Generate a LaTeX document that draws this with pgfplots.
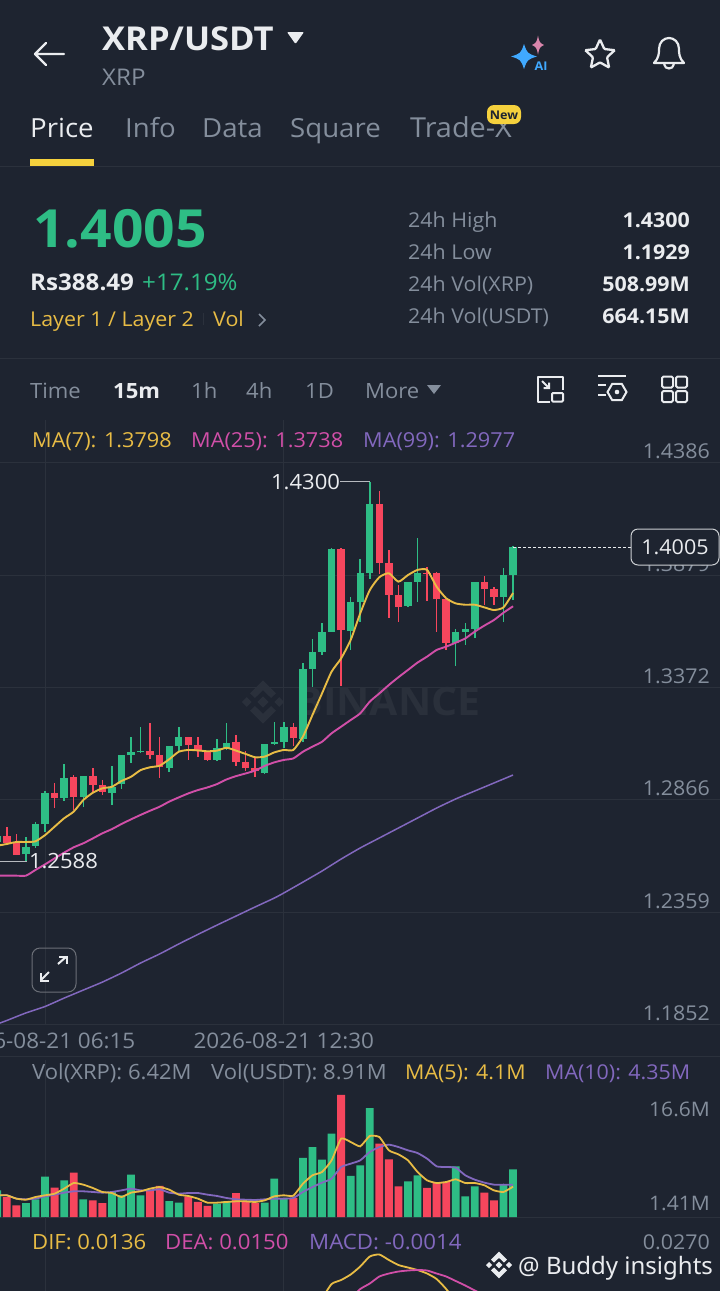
\documentclass[border=0pt]{standalone}
\usepackage{fontspec}
\setmainfont[FakeStretch=1.05]{Open Sans}
\newfontfamily\wm{Noto Sans}
\usepackage{pgfplots}
\usepackage{pgfplotstable}
\pgfplotsset{compat=1.18}
\usetikzlibrary{shapes.geometric}
\definecolor{bg}{HTML}{1E2430}
\definecolor{gridc}{HTML}{2B313C}
\definecolor{sepc}{HTML}{2B313C}
\definecolor{wmarkc}{HTML}{2A303B}
\definecolor{upc}{HTML}{2EBD85}
\definecolor{dnc}{HTML}{F6465D}
\definecolor{yel}{HTML}{E8BC45}
\definecolor{pnk}{HTML}{D14FA8}
\definecolor{pur}{HTML}{8268BE}
\definecolor{gry}{HTML}{848E9C}
\definecolor{wht}{HTML}{EAECEF}
\definecolor{tabY}{HTML}{F5D13D}

\pgfplotstableread{
x bot top low high
-1 1.2676 1.2702 1.2661 1.2711
2 1.2619 1.2654 1.2588 1.2696
3 1.2658 1.2756 1.2646 1.2767
4 1.2754 1.2894 1.2721 1.2906
6 1.2875 1.2962 1.2861 1.3027
8 1.2879 1.2972 1.2834 1.2974
11 1.2894 1.2924 1.2842 1.3018
12 1.2936 1.3066 1.2912 1.3066
13 1.3066 1.3081 1.3033 1.3150
14 1.3079 1.3087 1.3078 1.3195
17 1.3007 1.3108 1.2992 1.3108
18 1.3108 1.3147 1.3087 1.3195
22 1.3045 1.3097 1.3039 1.3139
23 1.3094 1.3123 1.3090 1.3213
27 1.2987 1.3117 1.2980 1.3117
28 1.3117 1.3127 1.3112 1.3218
29 1.3127 1.3195 1.3097 1.3218
31 1.3138 1.3457 1.3127 1.3484
32 1.3457 1.3533 1.3372 1.3590
33 1.3533 1.3624 1.3518 1.3661
34 1.3624 1.3998 1.3624 1.3999
36 1.3628 1.3756 1.3541 1.3778
37 1.3756 1.3890 1.3669 1.3950
38 1.3890 1.4198 1.3860 1.4300
42 1.3739 1.3849 1.3736 1.3849
43 1.3849 1.3887 1.3759 1.4044
47 1.3574 1.3624 1.3469 1.3634
48 1.3624 1.3634 1.3563 1.3661
49 1.3634 1.3849 1.3593 1.3849
52 1.3781 1.3879 1.3669 1.3912
53 1.3879 1.4005 1.3766 1.4010
}\upcandles
\pgfplotstableread{
x bot top low high
0 1.2672 1.2702 1.2661 1.2744
1 1.2616 1.2672 1.2616 1.2711
5 1.2875 1.2894 1.2827 1.2942
7 1.2879 1.2966 1.2819 1.2977
9 1.2932 1.2972 1.2902 1.3007
10 1.2902 1.2932 1.2887 1.2954
15 1.3066 1.3087 1.3048 1.3213
16 1.3012 1.3067 1.2965 1.3147
19 1.3112 1.3147 1.3045 1.3147
20 1.3085 1.3112 1.3057 1.3147
21 1.3045 1.3085 1.3042 1.3087
24 1.3037 1.3124 1.3018 1.3157
25 1.3007 1.3037 1.2995 1.3085
26 1.2997 1.3007 1.2969 1.3052
30 1.3142 1.3195 1.3108 1.3210
35 1.3631 1.3998 1.3379 1.3999
39 1.3935 1.4198 1.3884 1.4258
40 1.3789 1.3935 1.3684 1.3992
41 1.3736 1.3789 1.3669 1.3834
44 1.3884 1.3890 1.3762 1.3917
45 1.3769 1.3887 1.3624 1.3894
46 1.3574 1.3769 1.3541 1.3769
50 1.3814 1.3848 1.3744 1.3875
51 1.3781 1.3814 1.3744 1.3823
}\dncandles
\pgfplotstableread{
x ma7 ma25
-1 1.2658 1.2523
0 1.2666 1.2523
1 1.2675 1.2523
2 1.2675 1.2523
3 1.2678 1.2549
4 1.2706 1.2574
5 1.2744 1.2601
6 1.2782 1.2627
7 1.2812 1.2651
8 1.2864 1.2669
9 1.2897 1.2691
10 1.2917 1.2714
11 1.2924 1.2733
12 1.2950 1.2756
13 1.2969 1.2777
14 1.2999 1.2797
15 1.3012 1.2816
16 1.3019 1.2834
17 1.3048 1.2857
18 1.3082 1.2876
19 1.3090 1.2894
20 1.3088 1.2909
21 1.3084 1.2921
22 1.3087 1.2936
23 1.3100 1.2957
24 1.3087 1.2972
25 1.3072 1.2984
26 1.3057 1.2997
27 1.3060 1.3018
28 1.3079 1.3034
29 1.3090 1.3045
30 1.3090 1.3052
31 1.3150 1.3082
32 1.3248 1.3105
33 1.3345 1.3127
34 1.3443 1.3165
35 1.3503 1.3195
36 1.3586 1.3225
37 1.3706 1.3255
38 1.3811 1.3308
39 1.3869 1.3345
40 1.3887 1.3383
41 1.3849 1.3418
42 1.3879 1.3451
43 1.3902 1.3484
44 1.3902 1.3511
45 1.3826 1.3541
46 1.3774 1.3556
47 1.3751 1.3574
48 1.3745 1.3593
49 1.3745 1.3624
50 1.3733 1.3651
51 1.3721 1.3676
52 1.3733 1.3709
53 1.3798 1.3738
}\matable
\pgfplotstableread{
x ma99
-1 1.1854
0 1.1870
2 1.1904
4 1.1933
6 1.1971
8 1.2007
10 1.2043
12 1.2084
14 1.2129
16 1.2170
18 1.2215
20 1.2258
22 1.2300
24 1.2341
26 1.2382
28 1.2422
29 1.2445
31 1.2494
33 1.2544
35 1.2598
37 1.2648
39 1.2693
41 1.2738
43 1.2783
45 1.2828
47 1.2869
49 1.2905
51 1.2941
53 1.2977
}\manine
\pgfplotstableread{
x v
-1 3.60
2 1.89
3 2.39
4 5.45
6 4.95
8 2.39
11 3.38
12 2.93
13 5.72
14 2.93
17 2.16
18 1.94
22 1.80
23 2.16
27 1.94
28 5.18
29 2.57
31 7.97
32 9.45
33 7.74
34 11.25
36 5.54
37 6.98
38 14.70
42 4.82
43 5.63
47 6.84
48 2.79
49 4.14
52 4.41
53 6.42
}\volup
\pgfplotstableread{
x v
0 2.70
1 1.58
5 3.96
7 5.99
9 2.25
10 1.89
15 3.60
16 4.19
19 2.79
20 2.03
21 1.49
24 3.24
25 2.16
26 1.89
30 2.57
35 16.50
39 9.90
40 7.79
41 4.14
44 3.92
45 4.64
46 4.73
50 3.29
51 2.25
}\voldn
\pgfplotstableread{
x m5 m10
-1 2.93 2.93
0 2.93 2.93
1 2.48 2.48
2 2.34 2.39
3 2.70 2.48
4 2.93 2.79
5 3.15 3.02
6 3.83 3.29
7 4.59 3.47
8 4.37 3.47
9 3.92 3.38
10 3.38 3.29
11 3.24 3.38
12 2.70 3.60
13 3.29 3.83
14 3.47 3.60
15 3.83 3.60
16 4.05 3.74
17 3.69 3.29
18 3.02 3.15
19 2.84 3.24
20 2.48 3.24
21 1.94 3.02
22 1.94 2.84
23 2.03 2.57
24 2.12 2.39
25 2.12 2.34
26 2.03 2.30
27 2.25 2.39
28 2.79 2.48
29 2.93 2.48
30 2.88 2.57
31 4.50 3.38
32 5.63 4.05
33 6.08 4.64
34 7.65 5.18
35 10.58 6.75
36 10.13 7.20
37 9.54 7.65
38 10.94 8.78
39 10.80 9.45
40 9.00 9.77
41 8.46 9.45
42 7.65 9.00
43 6.08 8.64
44 4.95 7.88
45 4.59 6.84
46 4.73 6.75
47 5.09 6.66
48 4.59 5.63
49 4.59 5.04
50 4.28 4.64
51 3.60 4.37
52 3.38 4.37
53 4.10 4.35
}\volma
\pgfplotstableread{
x dif
32 0.0153
33 0.0179
34 0.0208
35 0.0216
36 0.0227
37 0.0243
38 0.0263
39 0.0267
40 0.0256
41 0.0246
42 0.0241
43 0.0236
44 0.0229
45 0.0218
46 0.0198
47 0.0173
}\diftable
\pgfplotstableread{
x dea
35 0.0159
36 0.0179
37 0.0198
38 0.0209
39 0.0223
40 0.0229
41 0.0233
42 0.0235
43 0.0236
44 0.0235
45 0.0229
46 0.0223
47 0.0214
48 0.0205
49 0.0195
50 0.0186
}\deatable

\newcommand\T[6]{\node[anchor=#3,inner sep=0pt,text=#5,font=\fontsize{#4}{#4}\selectfont] at (#1,#2) {#6};}
\newcommand\spark[5]{\fill[#5] (#1,#2-#4) .. controls (#1+0.25*#3,#2-0.25*#4) .. (#1+#3,#2) .. controls (#1+0.25*#3,#2+0.25*#4) .. (#1,#2+#4) .. controls (#1-0.25*#3,#2+0.25*#4) .. (#1-#3,#2) .. controls (#1-0.25*#3,#2-0.25*#4) .. cycle;}
\newcommand\bnlogo[4]{\begin{scope}[shift={(#1,#2)},scale=#3]
\fill[#4] (0,-3.6)--(3.6,0)--(0,3.6)--(-3.6,0)--cycle;
\fill[#4] (-10.5,-3.2)--(-7.3,0)--(-10.5,3.2)--(-13.7,0)--cycle;
\fill[#4] (10.5,-3.2)--(13.7,0)--(10.5,3.2)--(7.3,0)--cycle;
\fill[#4] (0,-14)--(8.4,-5.6)--(5.2,-2.6)--(0,-7.6)--(-5.2,-2.6)--(-8.4,-5.6)--cycle;
\fill[#4] (0,14)--(8.4,5.6)--(5.2,2.6)--(0,7.6)--(-5.2,2.6)--(-8.4,5.6)--cycle;
\end{scope}}

\pgfplotsset{panel/.style={
  scale only axis, width=720pt,
  xmin=-0.717, xmax=74.67,
  axis line style={draw=none}, tick style={draw=none},
  clip=true,
  xtick={4,29}, xmajorgrids, ymajorgrids,
  grid style={gridc,line width=1pt},
  scaled y ticks=false,
}}
\pgfplotsset{
  wick/.style={draw=none,mark=none,forget plot,error bars/.cd,y dir=both,y explicit,error mark=none,error bar style={draw=#1,line width=1.5pt}},
  body/.style={draw=none,mark=none,forget plot,error bars/.cd,y dir=plus,y explicit,error mark=none,error bar style={draw=#1,line width=7.4pt}},
}

\begin{document}
\begin{tikzpicture}[x=1pt,y=-1pt]
\path[use as bounding box,clip] (0,0) rectangle (720,1291);
\fill[bg] (0,0) rectangle (720,1291);

% ---------- header
\draw[wht,line width=2.3pt,line cap=round,line join=round] (35,54)--(64,54) (46,43)--(35,54)--(46,65);
\T{102}{50}{base west}{32.9}{wht}{\bfseries XRP/USDT}
\fill[wht,rounded corners=1pt] (287,32)--(304,32)--(295.5,44)--cycle;
\T{102}{85}{base west}{23}{gry}{XRP}
\spark{524}{56.5}{13}{12.5}{blue!45!cyan!75!white}
\spark{538}{45}{6}{9.5}{violet!30!pink}
\T{541}{70}{base}{12}{blue!45!cyan!75!white}{\bfseries AI}
\node[star,star points=5,star point ratio=2.1,draw=wht,line width=2.3pt,minimum size=31pt,inner sep=0pt,rounded corners=1pt] at (600,55) {};
\draw[wht,line width=2.2pt,line join=round] (654,63) .. controls (659,58) and (659,53) .. (659,49) .. controls (659,42) and (664,38) .. (669,38) .. controls (674,38) and (679,42) .. (679,49) .. controls (679,53) and (679,58) .. (684,63) -- cycle;
\draw[wht,line width=2.2pt] (664,64) .. controls (665,70) and (673,70) .. (674,64);

\T{30}{137}{base west}{26.3}{wht}{Price}
\T{125}{137}{base west}{26.3}{gry}{Info}
\T{202}{137}{base west}{26.3}{gry}{Data}
\T{290}{137}{base west}{26.3}{gry}{Square}
\T{410}{137}{base west}{27.5}{gry}{Trade-X}
\fill[tabY,rounded corners=7pt] (487,105) rectangle (521,124);
\T{504}{119}{base}{12}{bg}{\bfseries New}
\fill[tabY] (30,159) rectangle (94,166);
\draw[sepc,line width=1pt] (0,166)--(720,166);

% ---------- price block
\T{33}{247}{base west}{52.6}{upc}{\bfseries 1.4005}
\T{30}{290}{base west}{23}{wht}{\bfseries Rs388.49}
\T{142}{290}{base west}{23}{upc}{+17.19\%}
\T{30}{326}{base west}{20.4}{yel}{Layer 1 / Layer 2}
\draw[gridc,line width=1pt] (203,313)--(203,325);
\T{213}{326}{base west}{20.4}{yel}{Vol}
\draw[gry,line width=1.5pt] (259,314)--(265,320)--(259,326);
\T{408}{227}{base west}{20.4}{gry}{24h High}
\T{408}{259}{base west}{20.4}{gry}{24h Low}
\T{408}{291}{base west}{20.4}{gry}{24h Vol(XRP)}
\T{408}{323}{base west}{20.4}{gry}{24h Vol(USDT)}
\T{690}{227}{base east}{20.4}{wht}{\bfseries 1.4300}
\T{690}{259}{base east}{20.4}{wht}{\bfseries 1.1929}
\T{690}{291}{base east}{20.4}{wht}{\bfseries 508.99M}
\T{690}{323}{base east}{20.4}{wht}{\bfseries 664.15M}
\draw[sepc,line width=1pt] (0,358)--(720,358);

% ---------- interval row
\T{30}{398}{base west}{21}{gry}{Time}
\T{113}{398}{base west}{21}{wht}{\bfseries 15m}
\T{191}{398}{base west}{21}{gry}{1h}
\T{246}{398}{base west}{21}{gry}{4h}
\T{305}{398}{base west}{21}{gry}{1D}
\T{365}{398}{base west}{21}{gry}{More}
\fill[gry] (427,385)--(441,385)--(434,394)--cycle;
\draw[wht,line width=2pt,line join=round] (549,376.5)--(537.5,376.5)--(537.5,401.5)--(550,401.5) (563,390)--(563,376.5)--(549,376.5);
\draw[wht,line width=2pt,rounded corners=1pt] (552,393) rectangle (563,401.5);
\draw[wht,line width=2pt] (542,381)--(549,388) (549,382.5)--(549,388)--(543.5,388);
\draw[wht,line width=2pt] (598,376)--(626,376) (598,385)--(606,385) (598,395)--(606,395);
\node[regular polygon,regular polygon sides=6,draw=wht,line width=2pt,minimum size=19pt,inner sep=0pt] at (617,392) {};
\fill[wht] (617,392) circle (2.3);
\foreach \a/\b in {662/376.5,676/376.5,662/391,676/391}{\draw[wht,line width=2pt,rounded corners=1.5pt] (\a,\b) rectangle (\a+11,\b+11);}

% ---------- MA legend
\T{32}{447}{base west}{20.65}{yel}{MA(7): 1.3798}
\T{191}{447}{base west}{20.65}{pnk}{MA(25): 1.3738}
\T{363}{447}{base west}{20.65}{pur}{MA(99): 1.2977}

% ---------- watermark
\bnlogo{263}{702}{1.55}{wmarkc}
\T{388}{715}{base}{39}{wmarkc}{\bfseries BINANCE}

% ---------- price panel
\begin{axis}[panel, at={(0pt,-1025pt)}, anchor=south west, height=605pt,
  ymin=1.18495, ymax=1.45781,
  ytick={1.1852,1.2359,1.2866,1.3372,1.3879,1.4386},
  xticklabels={2026-08-21 06:15,2026-08-21 12:30},
  yticklabel pos=right,
  /pgf/number format/.cd,fixed,fixed zerofill,precision=4,assume math mode=true,
  /pgfplots/.cd,
  yticklabel style={anchor=base east,xshift=-10pt,yshift=4pt,inner sep=0pt,font=\fontsize{20.4}{21}\selectfont,text=gry},
  xticklabel style={anchor=base,yshift=-23pt,inner sep=0pt,font=\fontsize{21.4}{22}\selectfont,text=gry},
  axis on top=false]
\addplot[wick=upc] table[x=x,y=bot,y error plus expr=\thisrow{high}-\thisrow{bot},y error minus expr=\thisrow{bot}-\thisrow{low}] {\upcandles};
\addplot[body=upc] table[x=x,y=bot,y error plus expr=\thisrow{top}-\thisrow{bot},y error minus expr=0] {\upcandles};
\addplot[wick=dnc] table[x=x,y=bot,y error plus expr=\thisrow{high}-\thisrow{bot},y error minus expr=\thisrow{bot}-\thisrow{low}] {\dncandles};
\addplot[body=dnc] table[x=x,y=bot,y error plus expr=\thisrow{top}-\thisrow{bot},y error minus expr=0] {\dncandles};
\addplot[yel,line width=1.9pt,smooth,tension=0.35,mark=none] table[x=x,y=ma7] {\matable};
\addplot[pnk,line width=1.9pt,smooth,tension=0.35,mark=none] table[x=x,y=ma25] {\matable};
\addplot[pur,line width=1.5pt,smooth,tension=0.35,mark=none] table[x=x,y=ma99] {\manine};
\addplot[wht!75!bg,line width=1pt,mark=none] coordinates {(34.9,1.4300)(38,1.4300)};
\addplot[wht!75!bg,line width=1pt,mark=none] coordinates {(-1,1.2588)(2.1,1.2588)};
\addplot[wht,line width=1pt,dash pattern=on 3pt off 2pt,mark=none] coordinates {(53,1.4005)(65.4,1.4005)};
\node[anchor=east,inner sep=0pt,text=wht,font=\fontsize{21}{21}\selectfont] at (axis cs:34.9,1.4300) {1.4300};
\node[anchor=west,inner sep=0pt,text=wht,font=\fontsize{21}{21}\selectfont] at (axis cs:2.3,1.2588) {1.2588};
\end{axis}

% ---------- volume panel
\begin{axis}[panel, at={(0pt,-1217pt)}, anchor=south west, height=157pt,
  ymin=0, ymax=21.195, ytick={0}, yticklabels={}, xticklabels={},
  ybar, bar width=7.8pt, bar shift=0pt]
\addplot[fill=upc,draw=none] table[x=x,y=v] {\volup};
\addplot[fill=dnc,draw=none] table[x=x,y=v] {\voldn};
\addplot[sharp plot,pur,line width=1.8pt,smooth,tension=0.3,mark=none] table[x=x,y=m10] {\volma};
\addplot[sharp plot,yel,line width=1.8pt,smooth,tension=0.3,mark=none] table[x=x,y=m5] {\volma};
\end{axis}

% ---------- MACD panel
\begin{axis}[panel, at={(0pt,-1291pt)}, anchor=south west, height=74pt,
  ymin=0.0194, ymax=0.0342, ytick=\empty, xticklabels={}]
\addplot[yel,line width=1.8pt,smooth,tension=0.35,mark=none] table[x=x,y=dif] {\diftable};
\addplot[pnk,line width=1.8pt,smooth,tension=0.35,mark=none] table[x=x,y=dea] {\deatable};
\end{axis}

% ---------- rules and text over the panels
\draw[sepc,line width=1pt] (0,1056)--(720,1056);
\node[draw=wht!85!bg,fill=bg,line width=1pt,rounded corners=7pt,minimum width=88pt,minimum height=36pt,inner sep=0pt,text=wht,font=\fontsize{20.5}{21}\selectfont] at (675,547) {1.4005};
\draw[gridc!70!white,line width=1pt,rounded corners=8pt] (32,948) rectangle (76,992);
\draw[wht,line width=2pt] (41,980)--(49,972) (58,964)--(66,957);
\draw[wht,line width=2pt] (41,973)--(41,980.5)--(48.5,980.5) (59,956.5)--(66.5,956.5)--(66.5,964);

\T{32}{1079}{base west}{21}{gry}{Vol(XRP): 6.42M}
\T{211}{1079}{base west}{21}{gry}{Vol(USDT): 8.91M}
\T{405}{1079}{base west}{20.4}{yel}{MA(5): 4.1M}
\T{545}{1079}{base west}{20.4}{pur}{MA(10): 4.35M}
\T{710}{1116}{base east}{20}{gry}{16.6M}
\T{710}{1210}{base east}{20}{gry}{1.41M}
\T{32}{1249}{base west}{21}{yel}{DIF: 0.0136}
\T{165}{1249}{base west}{21.1}{pnk}{DEA: 0.0150}
\T{309}{1249}{base west}{21.2}{pur}{MACD: -0.0014}
\T{710}{1249}{base east}{20.4}{gry}{0.0270}
\bnlogo{499}{1265}{0.95}{wht}
\node[anchor=base west,inner sep=0pt,text=wht,font=\wm\fontsize{24}{24}\selectfont] at (518,1274) {@ Buddy insights};
\end{tikzpicture}
\end{document}
